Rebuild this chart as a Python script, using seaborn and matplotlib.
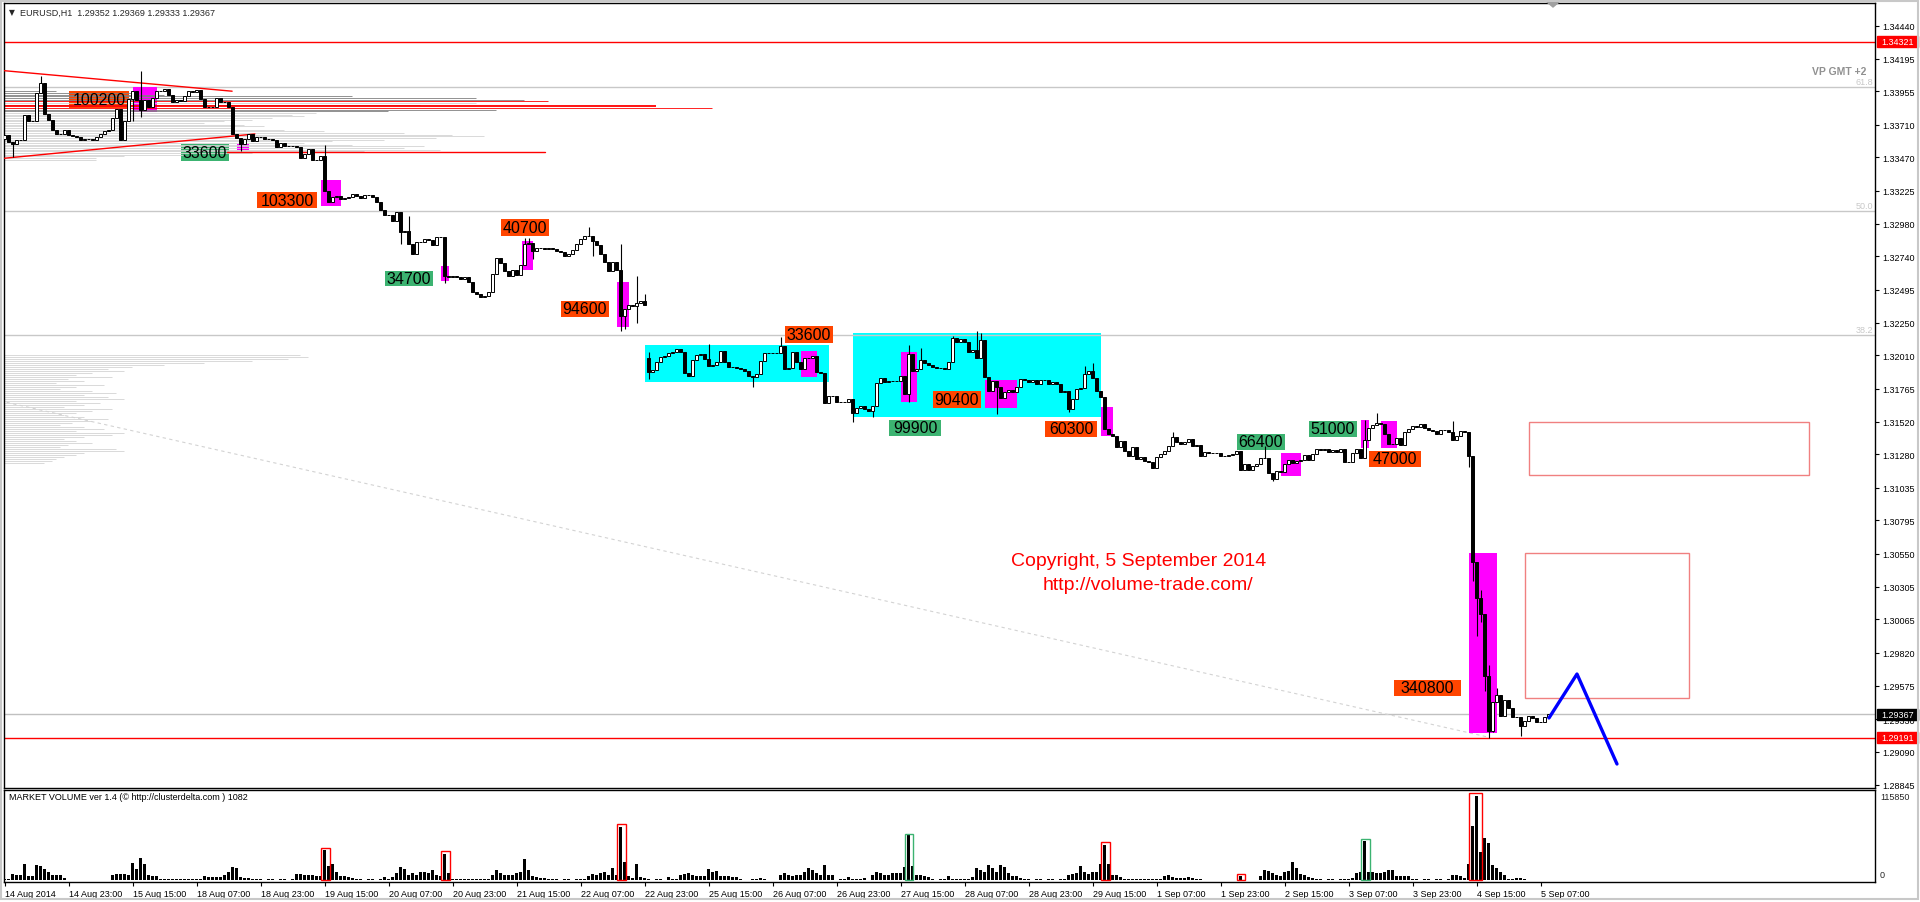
import matplotlib
matplotlib.use("Agg")
import numpy as np
import pandas as pd
import seaborn as sns
import matplotlib.pyplot as plt
from matplotlib.patches import Rectangle, Polygon

sns.set_theme(style="white")
plt.rcParams["font.family"] = ["Liberation Sans", "DejaVu Sans"]

# EURUSD H1 closes, 16 bars per row (one x label step)
closes = [
    1.33634, 1.33580, 1.33568, 1.33600, 1.33600, 1.33782, 1.33740, 1.33737, 1.33944, 1.34017, 1.33789, 1.33745, 1.33671, 1.33639, 1.33641, 1.33671,
    1.33637, 1.33629, 1.33622, 1.33600, 1.33605, 1.33605, 1.33600, 1.33622, 1.33641, 1.33664, 1.33673, 1.33757, 1.33826, 1.33600, 1.33740, 1.33900,
    1.33961, 1.33892, 1.33818, 1.33895, 1.33843, 1.33907, 1.33958, 1.33961, 1.33976, 1.33929, 1.33880, 1.33892, 1.33887, 1.33919, 1.33956, 1.33951,
    1.33968, 1.33900, 1.33838, 1.33838, 1.33841, 1.33909, 1.33880, 1.33875, 1.33841, 1.33644, 1.33610, 1.33568, 1.33605, 1.33639, 1.33587, 1.33622,
    1.33617, 1.33605, 1.33605, 1.33597, 1.33543, 1.33573, 1.33555, 1.33555, 1.33555, 1.33548, 1.33462, 1.33492, 1.33531, 1.33450, 1.33450, 1.33477,
    1.33225, 1.33139, 1.33175, 1.33183, 1.33163, 1.33168, 1.33180, 1.33198, 1.33188, 1.33173, 1.33193, 1.33193, 1.33175, 1.33144, 1.33085, 1.33045,
    1.33045, 1.33003, 1.33065, 1.32917, 1.32925, 1.32831, 1.32758, 1.32844, 1.32849, 1.32868, 1.32863, 1.32824, 1.32886, 1.32881, 1.32598, 1.32586,
    1.32593, 1.32586, 1.32573, 1.32586, 1.32549, 1.32475, 1.32463, 1.32438, 1.32446, 1.32475, 1.32610, 1.32726, 1.32691, 1.32635, 1.32598, 1.32642,
    1.32603, 1.32677, 1.32831, 1.32839, 1.32777, 1.32800, 1.32800, 1.32795, 1.32800, 1.32795, 1.32782, 1.32770, 1.32745, 1.32758, 1.32790, 1.32831,
    1.32868, 1.32888, 1.32893, 1.32856, 1.32824, 1.32758, 1.32696, 1.32635, 1.32696, 1.32642, 1.32303, 1.32352, 1.32382, 1.32377, 1.32397, 1.32414,
    1.32382, 1.31890, 1.31900, 1.31959, 1.32001, 1.32003, 1.32025, 1.32037, 1.32055, 1.32037, 1.31878, 1.31861, 1.31979, 1.32015, 1.32020, 1.31983,
    1.31929, 1.31942, 1.31964, 1.32040, 1.31964, 1.31922, 1.31922, 1.31920, 1.31910, 1.31893, 1.31861, 1.31853, 1.31873, 1.31971, 1.32025, 1.32028,
    1.32025, 1.32028, 1.32077, 1.31910, 1.31915, 1.32037, 1.31964, 1.31910, 1.31991, 1.31993, 1.32003, 1.31885, 1.31878, 1.31659, 1.31708, 1.31708,
    1.31664, 1.31669, 1.31669, 1.31689, 1.31585, 1.31620, 1.31639, 1.31615, 1.31603, 1.31635, 1.31807, 1.31841, 1.31816, 1.31821, 1.31821, 1.31821,
    1.31856, 1.31725, 1.32020, 1.31897, 1.31910, 1.31979, 1.31952, 1.31939, 1.31922, 1.31920, 1.31920, 1.31910, 1.31959, 1.32136, 1.32106, 1.32131,
    1.32106, 1.32037, 1.32052, 1.31988, 1.32126, 1.31848, 1.31750, 1.31824, 1.31775, 1.31694, 1.31738, 1.31757, 1.31743, 1.31775, 1.31836, 1.31831,
    1.31811, 1.31829, 1.31799, 1.31829, 1.31831, 1.31799, 1.31811, 1.31797, 1.31743, 1.31750, 1.31615, 1.31689, 1.31762, 1.31767, 1.31873, 1.31893,
    1.31841, 1.31750, 1.31701, 1.31470, 1.31431, 1.31414, 1.31333, 1.31377, 1.31308, 1.31271, 1.31333, 1.31247, 1.31259, 1.31234, 1.31227, 1.31178,
    1.31259, 1.31284, 1.31308, 1.31345, 1.31406, 1.31374, 1.31357, 1.31374, 1.31394, 1.31345, 1.31352, 1.31266, 1.31296, 1.31291, 1.31291, 1.31293,
    1.31271, 1.31271, 1.31276, 1.31281, 1.31303, 1.31168, 1.31207, 1.31168, 1.31193, 1.31207, 1.31252, 1.31257, 1.31144, 1.31099, 1.31156, 1.31148,
    1.31210, 1.31242, 1.31217, 1.31230, 1.31237, 1.31276, 1.31242, 1.31284, 1.31320, 1.31315, 1.31320, 1.31301, 1.31315, 1.31301, 1.31320, 1.31222,
    1.31227, 1.31291, 1.31320, 1.31252, 1.31389, 1.31473, 1.31497, 1.31512, 1.31502, 1.31431, 1.31357, 1.31357, 1.31399, 1.31350, 1.31443, 1.31468,
    1.31488, 1.31480, 1.31502, 1.31473, 1.31463, 1.31456, 1.31431, 1.31463, 1.31463, 1.31448, 1.31389, 1.31414, 1.31453, 1.31443, 1.31271, 1.30485,
    1.30220, 1.30104, 1.29645, 1.29244, 1.29453, 1.29507, 1.29350, 1.29473, 1.29409, 1.29343, 1.29343, 1.29281, 1.29316, 1.29355, 1.29335, 1.29311,
    1.29311, 1.29343, 1.29367,
]
# opens that differ from the previous close (first bar, monday gap)
open_fix = {0: 1.33605, 161: 1.31988}
# wick extremes (high, low) where they reach past the body
wicks = {
    2: (None, 1.33470), 9: (1.34071, None), 32: (None, 1.33740), 34: (1.34108, 1.33764),
    59: (None, 1.33519), 80: (1.33560, None), 99: (None, 1.32831), 101: (1.33035, None),
    110: (None, 1.32544), 130: (1.32873, None), 131: (1.32873, None), 132: (None, 1.32721),
    146: (1.32954, None), 147: (None, 1.32741), 154: (1.32831, 1.32193), 155: (None, 1.32205),
    158: (1.32598, 1.32247), 160: (1.32463, None), 161: (1.32033, 1.31836), 176: (1.32094, None),
    187: (None, 1.31775), 194: (1.32143, None), 212: (None, 1.31517), 217: (None, 1.31553),
    226: (1.32087, 1.31669), 229: (1.32062, None), 237: (1.32151, None), 243: (1.32192, None),
    244: (1.32175, None), 248: (None, 1.31578), 266: (None, 1.31590), 270: (1.31934, None),
    272: (1.31954, None), 292: (1.31443, None), 315: (1.31345, None), 317: (None, 1.31087),
    340: (1.31537, None), 343: (1.31586, None), 362: (1.31527, None), 366: (None, 1.31185),
    367: (None, 1.30350), 368: (None, 1.29944), 369: (1.30284, 1.30043), 370: (None, 1.29539),
    371: (1.29728, 1.29188), 372: (None, 1.29232), 373: (1.29556, None), 379: (None, 1.29203),
}

volumes = [
    2100, 2300, 8600, 7800, 6900, 22300, 6400, 6400, 20600, 19200, 16000, 11400, 7800, 6900, 6900, 4100,
    1000, 900, 1000, 900, 1000, 1100, 900, 1000, 1000, 900, 1000, 7800, 8600, 8600, 8600, 6900,
    23700, 16000, 30600, 22300, 7800, 5500, 5500, 2300, 2300, 1800, 1700, 1800, 1800, 1600, 1800, 1800,
    1800, 2300, 5500, 5100, 5100, 5100, 4500, 6900, 12300, 18200, 17400, 4500, 3200, 3200, 2700, 1400,
    1400, 1300, 1400, 1400, 1200, 1400, 1400, 1300, 1400, 8600, 8600, 7800, 6900, 6900, 5500, 5500,
    41500, 19200, 23300, 12300, 5900, 5900, 5100, 4100, 2300, 1400, 1300, 1400, 1400, 1200, 1400, 4500,
    2300, 4500, 10600, 18200, 16000, 7800, 10000, 6900, 11400, 12300, 10000, 14100, 7800, 5500, 36600, 10000,
    2100, 2000, 2100, 2100, 1900, 2100, 2100, 2000, 2100, 2100, 6900, 14100, 10000, 7800, 6900, 7800,
    10000, 11400, 29700, 14100, 5500, 4500, 4100, 4100, 2300, 1400, 1400, 1300, 1400, 1400, 1200, 1400,
    1400, 1400, 5500, 8600, 7800, 10000, 11400, 7800, 16900, 7800, 74000, 25100, 5500, 4100, 22300, 4500,
    4100, 1400, 1300, 1400, 1400, 1200, 4500, 2300, 2300, 6900, 8600, 9600, 6900, 5500, 5500, 5500,
    15500, 12300, 13300, 6400, 5500, 5500, 4500, 4500, 2300, 1000, 400, 2300, 2300, 3200, 2300, 1000,
    400, 400, 6900, 9600, 7800, 5500, 6900, 6900, 12300, 16900, 14700, 10000, 7800, 20600, 7800, 7800,
    400, 2300, 2300, 5100, 2300, 2300, 2300, 3200, 1000, 7800, 12300, 10000, 7800, 6900, 10000, 10000,
    10000, 18800, 62700, 19200, 7800, 7800, 6400, 4500, 2300, 400, 2300, 2300, 5500, 2300, 2300, 2300,
    2300, 2300, 4500, 16900, 14700, 12300, 20600, 16900, 12300, 20600, 18800, 10000, 5500, 5500, 4100, 2300,
    1400, 1300, 1400, 1400, 1200, 1400, 1400, 1300, 1400, 1400, 7800, 8600, 10000, 19200, 12300, 8600,
    12300, 12300, 22300, 48000, 22300, 7800, 7800, 4500, 2100, 2000, 2100, 2100, 1900, 2100, 2100, 2000,
    2100, 2100, 5500, 7800, 5100, 4100, 4100, 4100, 5100, 4100, 2300, 2300, 1000, 900, 1000, 1000,
    1000, 900, 1000, 1000, 1100, 5500, 1000, 900, 1000, 1000, 5500, 14700, 13300, 10000, 6900, 5500,
    11400, 13300, 25100, 16900, 8600, 7800, 5100, 4100, 2300, 1400, 1300, 1400, 1400, 1200, 1400, 1400,
    1400, 4100, 10000, 12300, 54400, 12300, 11400, 10000, 10000, 12300, 14700, 14700, 6400, 6400, 6400, 6400,
    2300, 1400, 1300, 1400, 1400, 1200, 1400, 1400, 1300, 1400, 6900, 7800, 5500, 3200, 22300, 75000,
    115850, 38800, 58000, 51100, 21500, 16900, 12300, 7800, 2300, 2300, 4100, 4100, 2300, 1000, 1000, 1000,
    1000, 1000, 400,
]

x_labels = ["14 Aug 2014", "14 Aug 23:00", "15 Aug 15:00", "18 Aug 07:00", "18 Aug 23:00",
            "19 Aug 15:00", "20 Aug 07:00", "20 Aug 23:00", "21 Aug 15:00", "22 Aug 07:00",
            "22 Aug 23:00", "25 Aug 15:00", "26 Aug 07:00", "26 Aug 23:00", "27 Aug 15:00",
            "28 Aug 07:00", "28 Aug 23:00", "29 Aug 15:00", "1 Sep 07:00", "1 Sep 23:00",
            "2 Sep 15:00", "3 Sep 07:00", "3 Sep 23:00", "4 Sep 15:00", "5 Sep 07:00"]
y_ticks = [1.34440, 1.34195, 1.33955, 1.33710, 1.33470, 1.33225, 1.32980, 1.32740, 1.32495,
           1.32250, 1.32010, 1.31765, 1.31520, 1.31280, 1.31035, 1.30795, 1.30550, 1.30305,
           1.30065, 1.29820, 1.29575, 1.29330, 1.29090, 1.28845]

# volume profile (upper left): price level, length in bars, colour code
prof1_price = [1.33957, 1.33944, 1.33932, 1.33920, 1.33907, 1.33895, 1.33883, 1.33870, 1.33858,
               1.33846, 1.33833, 1.33821, 1.33809, 1.33797, 1.33784, 1.33772, 1.33760, 1.33747,
               1.33735, 1.33723, 1.33710, 1.33699, 1.33686, 1.33674, 1.33662, 1.33649, 1.33637,
               1.33625, 1.33612, 1.33600, 1.33588, 1.33575, 1.33563, 1.33551, 1.33539, 1.33526,
               1.33514, 1.33502, 1.33489, 1.33477, 1.33465, 1.33452]
prof1_len = [13, 32, 40, 87, 118, 130, 136, 118, 104, 163, 177, 123, 96, 78, 72, 75, 67, 62, 55, 50,
             60, 65, 57, 70, 80, 100, 112, 120, 108, 95, 82, 75, 87, 105, 100, 109, 90, 62, 45, 30,
             23, 23]
prof1_col = list("dddddd" "rldRrdd" "lllllllllllllllllllllllllllll")

# volume profile (middle left)
prof2_price = [1.32014, 1.31999, 1.31984, 1.31969, 1.31954, 1.31940, 1.31925, 1.31910, 1.31895,
               1.31881, 1.31866, 1.31851, 1.31836, 1.31822, 1.31807, 1.31792, 1.31777, 1.31763,
               1.31748, 1.31733, 1.31718, 1.31704, 1.31689, 1.31674, 1.31659, 1.31645, 1.31630,
               1.31615, 1.31600, 1.31586, 1.31571, 1.31556, 1.31541, 1.31527, 1.31512, 1.31497,
               1.31482, 1.31468, 1.31453, 1.31438, 1.31423, 1.31409, 1.31394, 1.31379, 1.31364,
               1.31350, 1.31335, 1.31320, 1.31305, 1.31291, 1.31276, 1.31261, 1.31246, 1.31232,
               1.31217]
prof2_len = [74, 76, 71, 62, 50, 40, 32, 26, 30, 22, 18, 27, 16, 20, 13, 25, 18, 14, 22, 28,
             20, 26, 30, 18, 24, 20, 15, 27, 22, 18, 15, 20, 26, 22, 17, 14, 20, 25, 18, 30,
             27, 20, 15, 18, 22, 16, 14, 28, 30, 20, 18, 15, 13, 12, 10]

# boxed volume labels: text, colour, bar range, price range
labels = [
    ("100200", "#FF4500", 16.1, 31.1, 1.33955, 1.33830),
    ("33600", "#3CB371", 44.1, 56.1, 1.33568, 1.33443),
    ("103300", "#FF4500", 63.1, 78.1, 1.33214, 1.33096),
    ("34700", "#3CB371", 95.1, 107.1, 1.32632, 1.32522),
    ("40700", "#FF4500", 124.1, 136.1, 1.33015, 1.32890),
    ("94600", "#FF4500", 139.1, 151.1, 1.32411, 1.32293),
    ("33600", "#FF4500", 195.1, 207.1, 1.32227, 1.32101),
    ("99900", "#3CB371", 221.1, 234.1, 1.31534, 1.31416),
    ("90400", "#FF4500", 232.1, 244.1, 1.31748, 1.31623),
    ("60300", "#FF4500", 260.1, 273.1, 1.31527, 1.31409),
    ("66400", "#3CB371", 308.1, 320.1, 1.31431, 1.31313),
    ("51000", "#3CB371", 326.1, 338.1, 1.31527, 1.31409),
    ("47000", "#FF4500", 341.1, 354.1, 1.31306, 1.31188),
    ("340800", "#FF4500", 347.4, 364.1, 1.29618, 1.29500),
]
# magenta spike zones: bar range, price range
spikes = [(32.2, 38.1, 1.33988, 1.33804), (58.2, 61.1, 1.33568, 1.33524), (79.1, 84.0, 1.33303, 1.33111),
          (109.1, 111.2, 1.32671, 1.32561), (129.3, 132.0, 1.32856, 1.32642), (153.2, 156.1, 1.32549, 1.32222),
          (199.0, 203.2, 1.32045, 1.31853), (224.1, 228.0, 1.32037, 1.31669), (245.1, 253.0, 1.31829, 1.31623),
          (274.1, 277.1, 1.31627, 1.31418), (319.1, 324.1, 1.31291, 1.31124), (339.1, 341.1, 1.31534, 1.31328),
          (344.1, 348.0, 1.31527, 1.31328), (366.2, 373.0, 1.30553, 1.29225)]
ranges = [(160.1, 206.1, 1.32087, 1.31816), (212.0, 274.1, 1.32175, 1.31558)]
targets = [(381.1, 451.1, 1.31519, 1.31129), (380.1, 421.1, 1.30553, 1.29484)]
proj_x = [386.1, 393.1, 403.1]
proj_y = [1.29338, 1.29662, 1.28999]
vol_boxes = [(79.2, 81.3, 44300, "red"), (109.1, 111.3, 39800, "red"), (153.1, 155.4, 77200, "red"),
             (225.2, 227.2, 63500, "#3CB371"), (274.1, 276.3, 52600, "red"), (308.1, 310.2, 8700, "red"),
             (339.2, 341.3, 56700, "#3CB371"), (366.2, 369.3, 119700, "red")]
fib_levels = [(1.33988, "61.8"), (1.33072, "50.0"), (1.32160, "38.2")]

W, H = 1920, 903
fig = plt.figure(figsize=(W / 100, H / 100), dpi=100)
fig.patch.set_facecolor("white")


def box(x0, y0, x1, y1):
    return [x0 / W, 1 - y1 / H, (x1 - x0) / W, (y1 - y0) / H]


ax = fig.add_axes(box(3.5, 4, 1875, 789))
axv = fig.add_axes(box(3.5, 791, 1875, 883))

n = len(closes)
idx = np.arange(n)
c = np.array(closes)
o = np.r_[closes[0], c[:-1]]
for k, v in open_fix.items():
    o[k] = v
hi = np.maximum(o, c)
lo = np.minimum(o, c)
for k, (h, l) in wicks.items():
    if h is not None:
        hi[k] = h
    if l is not None:
        lo[k] = l

# background zones
for x0, x1, p0, p1 in ranges:
    ax.add_patch(Rectangle((x0, p1), x1 - x0, p0 - p1, color="#00FFFF", lw=0, zorder=1))
for x0, x1, p0, p1 in spikes:
    ax.add_patch(Rectangle((x0, p1), x1 - x0, p0 - p1, color="#FF00FF", lw=0, zorder=1.5))
for x0, x1, p0, p1 in targets:
    ax.add_patch(Rectangle((x0, p1), x1 - x0, p0 - p1, fill=False, ec="#F08080", lw=1, zorder=1.5))

# horizontal levels
for p, t in fib_levels:
    ax.axhline(p, color="#C8C8C8", lw=1, zorder=1.2)
    ax.text(467.1, p + 0.00008, t, color="#C8C8C8", fontsize=6.5, ha="right", va="bottom", zorder=1.2)
ax.axhline(1.34321, color="red", lw=1, zorder=1.2)
ax.axhline(1.29367, color="#C0C0C0", lw=1, zorder=1.2)
ax.axhline(1.29191, color="red", lw=1, zorder=1.2)
ax.plot([-1.1, 370.6], [1.31675, 1.29199], color="#D3D3D3", lw=0.8, ls=(0, (3, 3)), zorder=1.2)

# labels (text goes above the profile lines)
for t, col, x0, x1, p0, p1 in labels:
    ax.add_patch(Rectangle((x0, p1), x1 - x0, p0 - p1, color=col, lw=0, zorder=2))
    ax.text((x0 + x1) / 2, (p0 + p1) / 2, t, fontsize=11.5, ha="center", va="center",
            color="black", zorder=2.8)

# volume profiles
cmap = {"d": "#808080", "l": "#D3D3D3", "r": "#FF0000", "R": "#FF0000"}
for p, L, cc in zip(prof1_price, prof1_len, prof1_col):
    ax.hlines(p, -0.25, -0.25 + L, color=cmap[cc], lw=1.3 if cc == "R" else 0.6, zorder=2.5)
ax.hlines(prof2_price, -0.25, -0.25 + np.array(prof2_len), color="#D3D3D3", lw=0.6, zorder=2.5)

# triangle lines
ax.plot([0, 56.9], [1.34108, 1.33957], color="red", lw=1, zorder=2.6)
ax.plot([0, 62.6], [1.33463, 1.33642], color="red", lw=1, zorder=2.6)
ax.plot([55.6, 135.1], [1.33507, 1.33507], color="red", lw=1, zorder=2.6)

# candles
ax.vlines(idx, lo, hi, color="black", lw=0.8, zorder=4)
up = c >= o
ax.bar(idx[up], (c - o)[up], bottom=o[up], width=0.6, color="white", edgecolor="black",
       lw=0.7, zorder=5)
ax.bar(idx[~up], (c - o)[~up], bottom=o[~up], width=0.6, color="black", edgecolor="black",
       lw=0.7, zorder=5)

# projection
sns.lineplot(x=proj_x, y=proj_y, color="#0000FF", lw=2.4, ax=ax, zorder=6)

ax.text(251.7, 1.30495, "Copyright, 5 September 2014", color="red", fontsize=14,
        ha="left", va="center", zorder=6)
ax.text(259.4, 1.30318, "http://volume-trade.com/", color="red", fontsize=14,
        ha="left", va="center", zorder=6)

ax.set_xlim(-0.25, 467.6)
ax.set_ylim(1.28822, 1.34607)
ax.set_xticks([])
ax.yaxis.tick_right()
ax.set_yticks(y_ticks)
ax.set_yticklabels([f"{v:.5f}" for v in y_ticks])
ax.tick_params(axis="y", direction="out", length=3, width=0.8, pad=2, labelsize=6.5,
               colors="black", right=True, left=False)
ax.set_xlabel("")
ax.set_ylabel("")
for s in ax.spines.values():
    s.set_color("black")
    s.set_linewidth(1)

# volume panel
vdf = pd.DataFrame({"bar": idx, "vol": volumes})
sns.barplot(data=vdf, x="bar", y="vol", native_scale=True, color="black", saturation=1,
            width=0.7, errorbar=None, linewidth=0, ax=axv)
for x0, x1, top, col in vol_boxes:
    axv.add_patch(Rectangle((x0, 0), x1 - x0, top, fill=False, ec=col, lw=1, zorder=5))
axv.set_xlim(-0.25, 467.6)
axv.set_ylim(-2057, 124076)
axv.set_yticks([])
axv.set_xticks(np.arange(0, 385, 16))
axv.set_xticklabels(x_labels, ha="left")
axv.tick_params(axis="x", direction="out", length=3, width=0.8, pad=2, labelsize=6.5,
                colors="black", bottom=True)
axv.set_xlabel("")
axv.set_ylabel("")
for s in axv.spines.values():
    s.set_color("black")
    s.set_linewidth(1)
axv.text(0.003, 0.93, "MARKET VOLUME ver 1.4 (\u00a9 http://clusterdelta.com ) 1082",
         transform=axv.transAxes, fontsize=6.5, ha="left", va="center", color="black")

# figure-level texts and price tags
fig.text(9 / W, 1 - 13 / H, "\u25bc", fontsize=5.5, ha="left", va="center",
         family=["DejaVu Sans"])
fig.text(20 / W, 1 - 13 / H, "EURUSD,H1  1.29352 1.29369 1.29333 1.29367", fontsize=6.5,
         ha="left", va="center")
fig.text(1866 / W, 1 - 72 / H, "VP GMT +2", fontsize=7.5, fontweight="bold", color="#909090",
         ha="right", va="center")
fig.text(1880 / W, 1 - 797 / H, "115850", fontsize=6.5, ha="left", va="center")
fig.text(1880 / W, 1 - 876 / H, "0", fontsize=6.5, ha="left", va="center")

for py, t, col in [(42.5, "1.34321", "red"), (715.5, "1.29367", "black"), (738.5, "1.29191", "red")]:
    fig.patches.append(Rectangle((1877 / W, 1 - (py + 5.2) / H), 41 / W, 10.4 / H,
                                 color=col, transform=fig.transFigure, figure=fig))
    fig.text(1898 / W, 1 - py / H, t, color="white", fontsize=6.5, ha="center", va="center")

fig.patches.append(Polygon([(1547 / W, 1 - 3 / H), (1559 / W, 1 - 3 / H), (1553 / W, 1 - 8 / H)],
                           closed=True, color="#A0A0A0", transform=fig.transFigure, figure=fig))
fig.patches.append(Rectangle((1 / W, 3 / H), 1917 / W, 898 / H, fill=False, ec="#C8C8C8",
                             lw=1.5, transform=fig.transFigure, figure=fig))

fig.savefig("out.png", dpi=100, facecolor="white")
